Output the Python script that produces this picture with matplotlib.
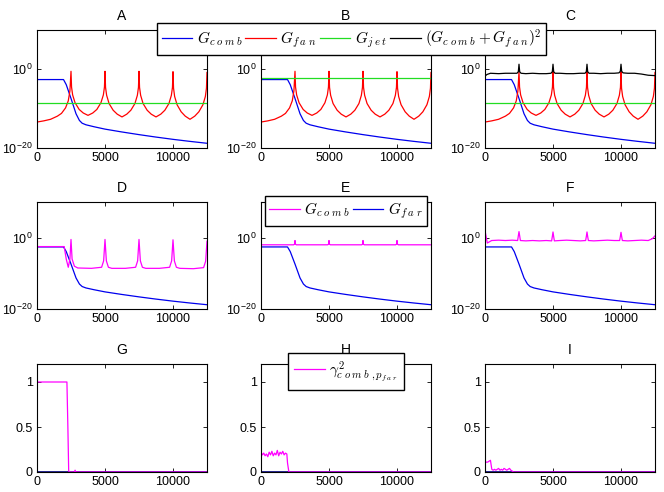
import numpy as np
import matplotlib
matplotlib.use("Agg")
import matplotlib.pyplot as plt
from matplotlib.ticker import NullLocator

plt.rcParams["font.family"] = ["Liberation Sans", "DejaVu Sans"]
plt.rcParams["mathtext.fontset"] = "cm"

# ---- data (log10 values) ----
x_max = 12500

comb_x = [0, 1950, 2150, 2500, 2870, 3120, 3320, 3600, 4200, 5000, 6200, 7500, 8700, 10000, 11200, 12500]
comb_log = [-2.6, -2.6, -3.9, -7.4, -11.3, -13.0, -13.7, -14.1, -14.6, -15.2, -15.9, -16.6, -17.2, -17.8, -18.3, -18.8]

fan_x = [0, 500, 1000, 1500, 1800, 2100, 2300, 2420, 2500,
         2540, 2620, 2800, 3100, 3400, 3750, 4100, 4400, 4700, 4880, 4960, 5000,
         5040, 5120, 5300, 5600, 5900, 6250, 6600, 6900, 7200, 7380, 7460, 7500,
         7540, 7620, 7800, 8100, 8400, 8750, 9100, 9400, 9700, 9880, 9960, 10000,
         10040, 10120, 10300, 10600, 10900, 11250, 11600, 11900, 12200, 12380, 12460, 12500]
fan_log = [-13.4, -13.1, -12.7, -11.9, -11.2, -9.8, -8.0, -5.5, -0.5,
           -4.5, -6.5, -8.5, -10.2, -11.1, -11.7, -11.1, -10.2, -8.5, -6.5, -4.5, -0.5,
           -4.6, -6.6, -8.7, -10.4, -11.4, -12.1, -11.4, -10.4, -8.7, -6.6, -4.6, -0.5,
           -4.6, -6.6, -8.7, -10.4, -11.4, -12.1, -11.4, -10.4, -8.7, -6.6, -4.6, -0.6,
           -4.8, -6.9, -9.0, -10.8, -11.9, -12.7, -11.9, -10.8, -9.0, -6.9, -4.8, -0.8]

jet_x = [0, 12500]
jet_log_a = [-8.6, -8.6]
jet_log_b = [-2.1, -2.1]
jet_log_c = [-8.6, -8.6]

sum_x = [0, 150, 400, 1000, 1500, 2000, 2350, 2450, 2500, 2550, 2650, 3000, 3500, 4000, 4500,
         4850, 4950, 5000, 5050, 5150, 5500, 6000, 6500, 7000, 7350, 7450, 7500, 7550, 7650,
         8000, 8500, 9000, 9500, 9850, 9950, 10000, 10050, 10150, 10500, 11000, 11500, 12000, 12500]
sum_log = [-1.7, -1.3, -1.0, -1.1, -1.0, -1.0, -1.0, -0.6, 1.3, -0.6, -1.0, -1.1, -1.0, -1.1, -1.1,
           -1.0, -0.6, 1.3, -0.6, -1.0, -1.0, -1.1, -1.1, -1.0, -1.0, -0.6, 1.3, -0.6, -1.0,
           -1.0, -1.1, -1.0, -1.0, -0.9, -0.5, 1.3, -0.5, -0.9, -1.0, -1.0, -1.2, -1.5, -1.6]

d_x = [0, 2000, 2150, 2300, 2420, 2500, 2580, 2750, 3000, 4000, 4750, 4900, 5000, 5100, 5250,
       5500, 6500, 7250, 7400, 7500, 7600, 7750, 8000, 9000, 9750, 9900, 10000, 10100, 10250,
       10500, 11500, 12250, 12400, 12500]
d_log = [-2.5, -2.5, -6.0, -8.3, -6.0, -0.5, -6.0, -8.0, -8.5, -8.6, -8.3, -6.5, -0.5, -6.5, -8.3,
         -8.6, -8.6, -8.3, -6.5, -0.5, -6.5, -8.3, -8.6, -8.6, -8.3, -6.5, -0.6, -6.5, -8.3,
         -8.6, -8.7, -8.4, -6.6, -1.0]

e_x = [0, 2400, 2470, 2500, 2530, 2600, 4900, 4970, 5000, 5030, 5100, 7400, 7470, 7500, 7530,
       7600, 9900, 9970, 10000, 10030, 10100, 12500]
e_log = [-2.0, -2.0, -1.8, -0.8, -1.8, -2.0, -2.0, -1.8, -0.8, -1.8, -2.0, -2.0, -1.8, -0.8, -1.8,
         -2.0, -2.0, -1.8, -0.8, -1.8, -2.0, -2.0]

f_x = [0, 170, 490, 1000, 1500, 2000, 2400, 2450, 2500, 2550, 2600, 3000, 3500, 4000, 4500,
       4900, 4950, 5000, 5050, 5100, 5500, 6000, 6500, 7000, 7400, 7450, 7500, 7550, 7600,
       8000, 8500, 9000, 9500, 9900, 9950, 10000, 10050, 10100, 10500, 11000, 11500, 12000, 12300, 12500]
f_log = [2.0, -1.5, -0.8, -0.7, -0.8, -0.7, -0.8, 0.5, 1.7, 0.5, -0.8, -0.9, -0.8, -0.9, -0.8,
         -0.9, 0.3, 1.6, 0.3, -0.9, -0.8, -0.7, -0.8, -0.9, -0.8, 0.3, 1.6, 0.3, -0.8,
         -0.9, -0.8, -0.7, -0.8, -0.8, 0.3, 1.5, 0.3, -0.8, -0.9, -0.8, -0.7, -0.8, -0.3, 0.5]

g_x = [0, 2200, 2270, 2330, 2400, 2750, 2800, 2850, 2900, 12500]
g_val = [1.0, 1.0, 0.5, 0.01, 0.0, 0.0, 0.02, 0.0, 0.0, 0.0]

h_x = [0, 100, 200, 300, 400, 500, 600, 700, 800, 900, 1000, 1100, 1200, 1300, 1400, 1500,
       1600, 1700, 1800, 1900, 1950, 2050, 2200, 12500]
h_val = [0.22, 0.19, 0.21, 0.18, 0.20, 0.17, 0.22, 0.19, 0.23, 0.18, 0.21, 0.19, 0.24, 0.18,
         0.22, 0.20, 0.23, 0.19, 0.21, 0.20, 0.10, 0.0, 0.0, 0.0]

i_x = [0, 100, 200, 300, 400, 450, 500, 600, 700, 800, 900, 1000, 1100, 1200, 1300, 1400,
       1500, 1600, 1700, 1800, 1900, 2000, 2100, 12500]
i_val = [0.10, 0.11, 0.11, 0.12, 0.13, 0.08, 0.03, 0.02, 0.03, 0.02, 0.03, 0.04, 0.02, 0.03,
         0.02, 0.04, 0.03, 0.02, 0.03, 0.04, 0.02, 0.01, 0.0, 0.0]

zero_x = [0, 12500]
zero_val = [0, 0]

titles = ["A", "B", "C", "D", "E", "F", "G", "H", "I"]

BLUE = "#0000ee"
RED = "#ff0000"
GREEN = "#22dd22"
MAG = "#ff00ff"
LW = 0.9


def lg(v):
    return 10.0 ** np.array(v)


W, H = 664, 492
col_left = [37, 261, 485]
col_w = 170
rows = [(30, 148), (202, 309), (364, 472)]

fig = plt.figure(figsize=(W / 100, H / 100), dpi=100)
axes = []
for r, (top, bot) in enumerate(rows):
    for c in range(3):
        ax = fig.add_axes([col_left[c] / W, 1 - bot / H, col_w / W, (bot - top) / H])
        axes.append(ax)

for k, ax in enumerate(axes):
    ax.set_xlim(0, x_max)
    ax.set_xticks([0, 5000, 10000])
    ax.tick_params(direction="in", top=True, right=True, length=3, labelsize=9, pad=3, width=0.6)
    ax.set_title(titles[k], fontsize=10, pad=7)
    for s in ax.spines.values():
        s.set_linewidth(0.8)
    if k < 6:
        ax.set_yscale("log")
        ax.set_ylim(1e-20, 1e10)
        ax.set_yticks([1e-20, 1])
        ax.yaxis.set_minor_locator(NullLocator())
    else:
        ax.set_ylim(0, 1.2)
        ax.set_yticks([0, 0.5, 1])
        ax.set_yticklabels(["0", "0.5", "1"])

# row 1
jets = [jet_log_a, jet_log_b, jet_log_c]
for c in range(3):
    ax = axes[c]
    h1, = ax.plot(comb_x, lg(comb_log), color=BLUE, lw=LW)
    h2, = ax.plot(fan_x, lg(fan_log), color=RED, lw=LW)
    h3, = ax.plot(jet_x, lg(jets[c]), color=GREEN, lw=LW)
    if c == 2:
        h4, = ax.plot(sum_x, lg(sum_log), color="black", lw=LW)

comb_lbl = r"$G_{c\;o\;m\;b}$"
leg1 = fig.legend([h1, h2, h3, h4],
                  [comb_lbl, r"$G_{f\;a\;n}$", r"$G_{j\;e\;t}$",
                   r"$(G_{c\;o\;m\;b}+G_{f\;a\;n})^2$"],
                  loc="upper left", bbox_to_anchor=(157 / W, 1 - 23 / H), borderaxespad=0,
                  ncol=4, fontsize=11, frameon=True, fancybox=False, framealpha=1,
                  edgecolor="black", handlelength=2.0, handletextpad=0.3, columnspacing=0.2,
                  borderpad=0.3)
leg1.get_frame().set_linewidth(1.0)

# row 2
mags = [(d_x, d_log), (e_x, e_log), (f_x, f_log)]
for c in range(3):
    ax = axes[3 + c]
    mx, ml = mags[c]
    hb, = ax.plot(comb_x, lg(comb_log), color=BLUE, lw=LW)
    hm, = ax.plot(mx, lg(ml), color=MAG, lw=LW)
    if c == 1:
        leg = ax.legend([hm, hb], [comb_lbl, r"$G_{f\;a\;r}$"],
                        loc="upper center", bbox_to_anchor=(0.5, 1 + 6 / 107), borderaxespad=0,
                        ncol=2, fontsize=11, fancybox=False, framealpha=1, edgecolor="black",
                        handlelength=2.0, handletextpad=0.3, columnspacing=0.2, borderpad=0.3)
        leg.get_frame().set_linewidth(1.0)

# row 3
gams = [(g_x, g_val), (h_x, h_val), (i_x, i_val)]
for c in range(3):
    ax = axes[6 + c]
    ax.plot(zero_x, zero_val, color="#000080", lw=1.2)
    gx, gv = gams[c]
    hg, = ax.plot(gx, gv, color=MAG, lw=LW)
    if c == 1:
        leg = ax.legend([hg], [r"$\gamma^2_{c\;o\;m\;b\;,p_{f\;a\;r}}$"],
                        loc="upper center", bbox_to_anchor=(0.5, 1 + 11 / 108), borderaxespad=0,
                        fontsize=11, fancybox=False, framealpha=1, edgecolor="black",
                        handlelength=2.0, handletextpad=0.3, borderpad=0.4)
        leg.get_frame().set_linewidth(1.0)

fig.savefig("out.png", dpi=100)
